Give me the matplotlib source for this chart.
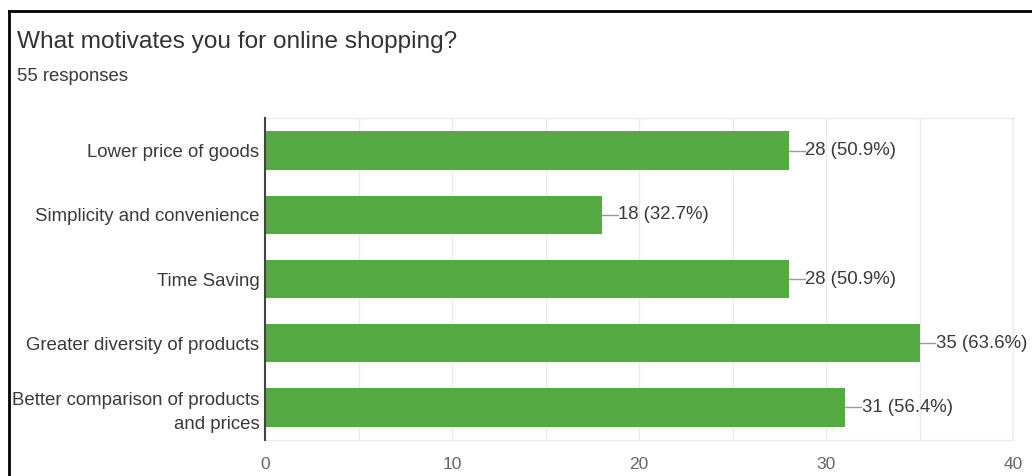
import matplotlib.pyplot as plt
from matplotlib.lines import Line2D
from matplotlib.ticker import MultipleLocator
import numpy as np

plt.rcParams['font.family'] = ['Liberation Sans', 'DejaVu Sans']

# Survey answers (multiple choice, 55 respondents)
reasons = [
    'Lower price of goods',
    'Simplicity and convenience',
    'Time Saving',
    'Greater diversity of products',
    'Better comparison of products\nand prices',
]
counts = [28, 18, 28, 35, 31]
percents = [50.9, 32.7, 50.9, 63.6, 56.4]
total_responses = 55

bar_color = '#55aa44'
text_color = '#3a3a3a'

fig = plt.figure(figsize=(10.32, 4.76), dpi=100)
ax = fig.add_axes([0.2568, 0.0756, 0.7248, 0.6765])

y = np.arange(len(reasons))
ax.barh(y, counts, height=0.6, color=bar_color, zorder=3)

# value labels with the short leader line
for yi, c, p in zip(y, counts, percents):
    ax.plot([c, c + 0.85], [yi, yi], color='#999999', lw=1, zorder=3)
    ax.text(c + 0.9, yi, f'{c} ({p}%)', va='center', ha='left',
            fontsize=13.4, color=text_color)

ax.set_xlim(0, 40)
ax.set_ylim(len(reasons) - 0.49, -0.51)
ax.xaxis.set_major_locator(MultipleLocator(10))
ax.xaxis.set_minor_locator(MultipleLocator(5))
ax.set_yticks(y)
ax.set_yticklabels(reasons, fontsize=13.4, color=text_color, linespacing=1.55)

ax.grid(axis='x', which='both', color='#ebebeb', lw=1, zorder=0)
ax.tick_params(axis='y', length=0, pad=4)
ax.tick_params(axis='x', which='both', length=0, pad=12, labelsize=12.5,
               labelcolor='#666666')

for side in ('top', 'right', 'bottom'):
    ax.spines[side].set_color('#ebebeb')
    ax.spines[side].set_linewidth(1)
ax.spines['left'].set_color('#444444')
ax.spines['left'].set_linewidth(1.5)
ax.spines['left'].set_zorder(4)

fig.text(0.0165, 0.899, 'What motivates you for online shopping?',
         fontsize=17.6, color='#333333', va='baseline', ha='left')
fig.text(0.0165, 0.830, f'{total_responses} responses',
         fontsize=13.3, color='#3a3a3a', va='baseline', ha='left')

# card border (top and left edges)
fig.add_artist(Line2D([0.0092, 1.0], [0.976, 0.976], color='black', lw=2))
fig.add_artist(Line2D([0.0092, 0.0092], [0.0, 0.976], color='black', lw=2))

fig.savefig('out.png', dpi=100)
